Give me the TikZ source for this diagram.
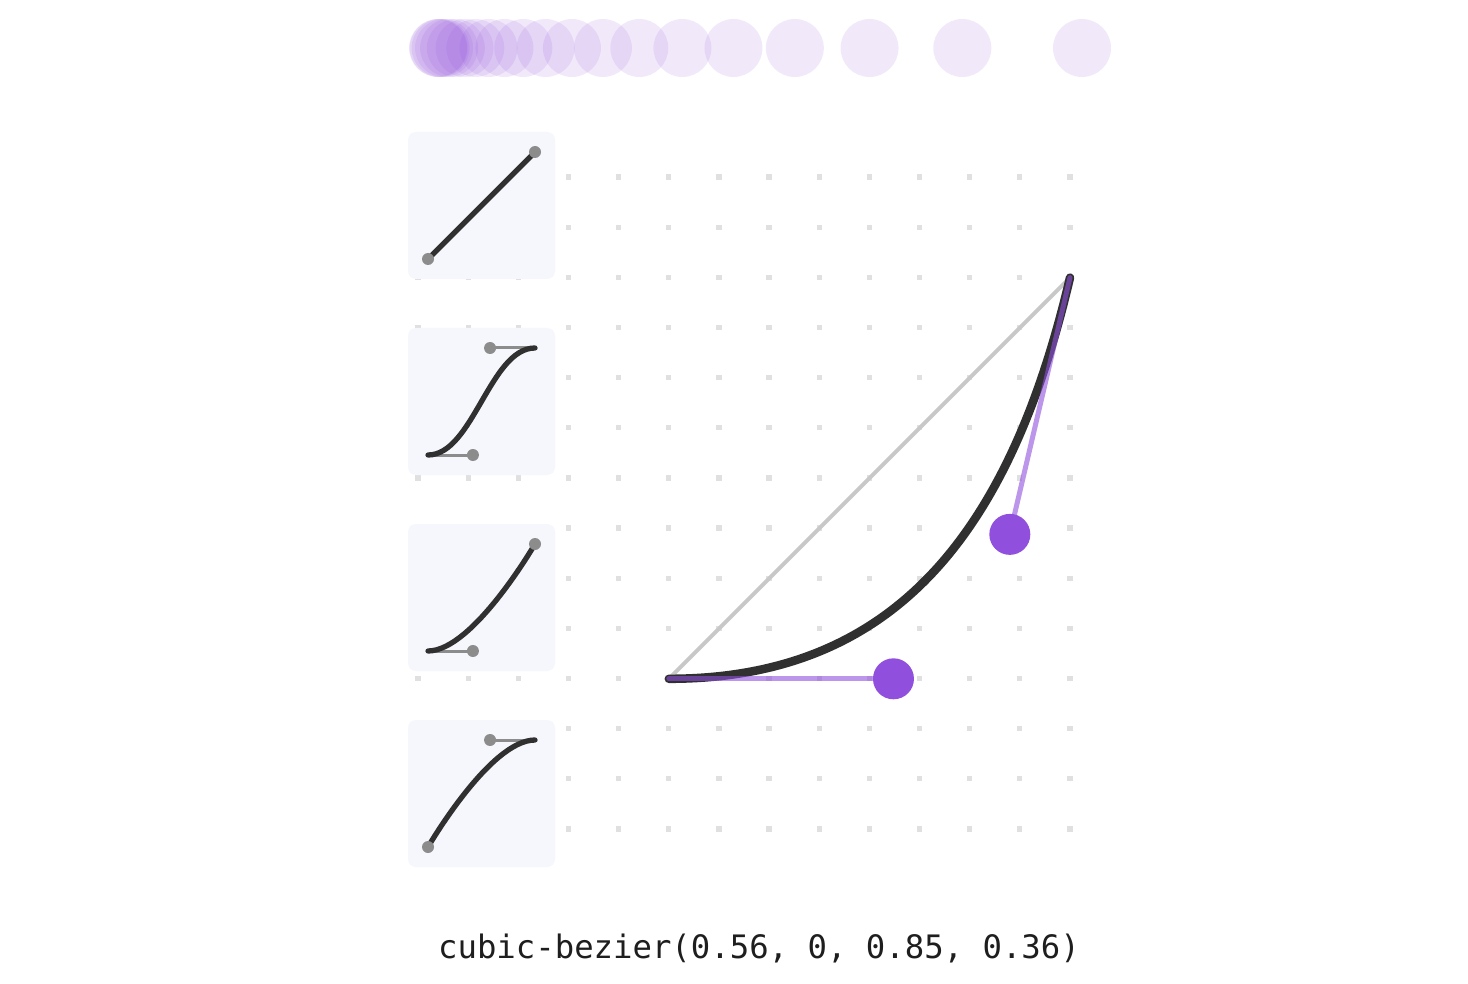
\documentclass[tikz,border=0pt]{standalone}
\usepackage{fontspec}
\newfontfamily\codefont{DejaVu Sans Mono}
\definecolor{purp}{HTML}{9050DD}
\definecolor{dotc}{HTML}{E0E0E0}
\definecolor{panelc}{HTML}{F6F7FC}
\definecolor{pgray}{HTML}{8C8C8C}
\definecolor{curvec}{HTML}{303030}
\definecolor{diagc}{HTML}{C8C8C8}
\definecolor{textc}{HTML}{1E1E1E}
\tikzset{
  ghost/.style={fill=purp,fill opacity=0.12},
  griddot/.style={fill=dotc},
  panelbox/.style={fill=panelc,rounded corners=8pt},
  pcurve/.style={draw=curvec,line width=5.3pt,line cap=round},
  phandle/.style={draw=pgray,line width=3pt},
  pdot/.style={fill=pgray},
  diagline/.style={draw=diagc,line width=4pt,line cap=round},
  maincurve/.style={draw=curvec,line width=8.5pt,line cap=round},
  mhandle/.style={draw=purp,draw opacity=0.6,line width=5pt,line cap=round},
  knob/.style={fill=purp},
}
\begin{document}
\begin{tikzpicture}[x=1pt,y=-1pt]
\useasboundingbox[fill=white] (0,0) rectangle (1468,984);
% animation frames
\foreach \v in {0,0.001,0.0040,0.0094,0.0172,0.0277,0.0412,0.0580,0.0785,0.1031,0.1324,0.1671,0.2080,0.2561,0.3126,0.3795,0.4588,0.5541,0.6701,0.8142,1}
  \fill[ghost] ({438+\v*644},48) circle[radius=29];
% dot grid
\foreach \i in {0,...,13}
  \foreach \j in {0,...,13}
    \fill[griddot] ({418+50.15*\i-2.6},{177+50.15*\j-2.6}) rectangle ++(5.2,5.2);
% panels
\foreach \k in {0,1,2,3}
  \fill[panelbox] (408,{132+196*\k}) rectangle ++(147,147);
% panel 1: linear
\begin{scope}[shift={(428,259)},x=107pt,y=107pt]
  \coordinate (a0) at (0,0); \coordinate (a3) at (1,1);
  \draw[pcurve] (a0) -- (a3);
  \fill[pdot] (a0) circle[radius=6pt];
  \fill[pdot] (a3) circle[radius=6pt];
\end{scope}
% panel 2: ease-in-out
\begin{scope}[shift={(428,455)},x=107pt,y=107pt]
  \coordinate (b0) at (0,0); \coordinate (b1) at (0.42,0);
  \coordinate (b2) at (0.58,1); \coordinate (b3) at (1,1);
  \draw[phandle] (b0) -- (b1);
  \draw[phandle] (b3) -- (b2);
  \draw[pcurve] (b0) .. controls (b1) and (b2) .. (b3);
  \fill[pdot] (b1) circle[radius=6pt];
  \fill[pdot] (b2) circle[radius=6pt];
\end{scope}
% panel 3: ease-in
\begin{scope}[shift={(428,651)},x=107pt,y=107pt]
  \coordinate (c0) at (0,0); \coordinate (c1) at (0.42,0);
  \coordinate (c3) at (1,1);
  \draw[phandle] (c0) -- (c1);
  \draw[pcurve] (c0) .. controls (c1) and (c3) .. (c3);
  \fill[pdot] (c1) circle[radius=6pt];
  \fill[pdot] (c3) circle[radius=6pt];
\end{scope}
% panel 4: ease-out
\begin{scope}[shift={(428,847)},x=107pt,y=107pt]
  \coordinate (d0) at (0,0); \coordinate (d2) at (0.58,1);
  \coordinate (d3) at (1,1);
  \draw[phandle] (d3) -- (d2);
  \draw[pcurve] (d0) .. controls (d0) and (d2) .. (d3);
  \fill[pdot] (d0) circle[radius=6pt];
  \fill[pdot] (d2) circle[radius=6pt];
\end{scope}
% main editor
\begin{scope}[shift={(668.8,678.8)},x=401.2pt,y=401.2pt]
  \coordinate (m0) at (0,0); \coordinate (m1) at (0.56,0);
  \coordinate (m2) at (0.85,0.36); \coordinate (m3) at (1,1);
  \draw[diagline] (m0) -- (m3);
  \draw[maincurve] (m0) .. controls (m1) and (m2) .. (m3);
  \draw[mhandle] (m0) -- (m1);
  \draw[mhandle] (m3) -- (m2);
  \fill[knob] (m1) circle[radius=20.5pt];
  \fill[knob] (m2) circle[radius=20.5pt];
\end{scope}
\node[font=\codefont\fontsize{32.3}{38}\selectfont,text=textc,anchor=base,inner sep=0pt] (label) at (759,958) {cubic-bezier(0.56, 0, 0.85, 0.36)};
\end{tikzpicture}
\end{document}
